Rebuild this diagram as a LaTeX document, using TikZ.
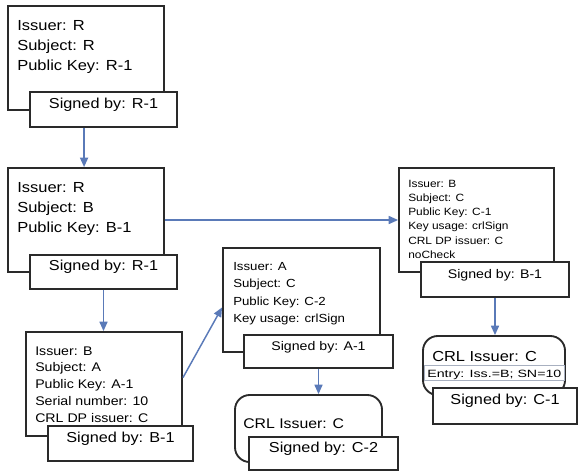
\documentclass[tikz,border=0pt]{standalone}
\usepackage{fontspec}
\setmainfont{Liberation Sans}[FakeStretch=1.13]
\newfontfamily\entryfont{Liberation Sans}[FakeStretch=1.35]
\usetikzlibrary{fit,calc,arrows.meta}
\definecolor{bordc}{HTML}{2A2A2A}
\definecolor{arrc}{HTML}{5A7AB8}
\definecolor{bandc}{HTML}{A8B0C0}
\newcommand{\myfA}{\fontsize{10.95}{15}\selectfont}
\newcommand{\myfC}{\fontsize{9.4}{12.6}\selectfont}
\newcommand{\myfD}{\fontsize{8.8}{13.2}\selectfont}
\newcommand{\myfE}{\fontsize{7.9}{10.7}\selectfont}
\newcommand{\myfS}{\fontsize{10.8}{13}\selectfont}
\newcommand{\myfSs}{\fontsize{9.4}{11}\selectfont}
\newcommand{\myfR}{\fontsize{10.9}{13}\selectfont}
\newcommand{\myfRb}{\fontsize{10.5}{13}\selectfont}
\newcommand{\myfEn}{\entryfont\fontsize{7.9}{9}\selectfont}
\tikzset{
  cert/.style={draw=bordc, line width=1.4pt, fill=white, inner sep=0pt},
  sign/.style={cert},
  crl/.style={cert, rounded corners=11pt},
  lines/.style={anchor=base west, align=left, inner sep=0pt},
  band/.style={draw=bandc, line width=0.6pt, inner sep=0pt},
  arr/.style={draw=arrc, line width=1.1pt, -{Triangle[length=7pt,width=6pt]}},
}
\begin{document}
\begin{tikzpicture}[x=0.75pt,y=-0.75pt]
\useasboundingbox (0,0) rectangle (580,472);
% box 1
\node[cert, fit={(8,6) (164,110)}] (c1) {};
\node[lines, font=\myfA] (t1) at (17,70) {Issuer: R\\Subject: R\\Public Key: R-1};
\node[sign, fit={(30,92) (177,127)}, font=\myfS] (s1) {Signed by: R-1};
% box 2
\node[cert, fit={(8,168) (164,272)}] (c2) {};
\node[lines, font=\myfA] (t2) at (17,232) {Issuer: R\\Subject: B\\Public Key: B-1};
\node[sign, fit={(30,255) (177,289)}, font=\myfS] (s2) {Signed by: R-1};
% box 3
\node[cert, fit={(26,332) (182,436)}] (c3) {};
\node[lines, font=\myfC] (t3) at (35,422.2) {Issuer: B\\Subject: A\\Public Key: A-1\\Serial number: 10\\CRL DP issuer: C};
\node[sign, fit={(48,426) (193,461)}, font=\myfS] (s3) {Signed by: B-1};
% box 4
\node[cert, fit={(223,248) (380,352)}] (c4) {};
\node[lines, font=\myfD] (t4) at (233,322.8) {Issuer: A\\Subject: C\\Public Key: C-2\\Key usage: crlSign};
\node[sign, fit={(244,335) (393,368)}, font=\myfSs] (s4) {Signed by: A-1};
% box 5
\node[cert, fit={(399,168) (554,272)}] (c5) {};
\node[lines, font=\myfE] (t5) at (408,258.5) {Issuer: B\\Subject: C\\Public Key: C-1\\Key usage: crlSign\\CRL DP issuer: C\\noCheck};
\node[sign, fit={(421,262) (569,297)}, font=\myfSs] (s5) {Signed by: B-1};
% CRL 1
\node[crl, fit={(423,336) (565,395)}] (crl1) {};
\node[lines, font=\myfR] (ct1) at (432,361) {CRL Issuer: C};
\node[band, fit={(424,365) (564,380)}] (bd1) {};
\node[lines, font=\myfEn] (et1) at (427,377) {Entry: Iss.=B; SN=10};
\node[sign, fit={(433,388) (577,424)}, font=\myfS] (sc1) {Signed by: C-1};
% CRL 2
\node[crl, fit={(235,395) (382,462)}] (crl2) {};
\node[lines, font=\myfRb] (ct2) at (243,428) {CRL Issuer: C};
\node[sign, fit={(249,437) (398,470)}, font=\myfS] (sc2) {Signed by: C-2};
% connectors
\draw[arr] ($(s1.south west)+(55,0)$) -- ($(c2.north west)+(77,0)$);
\draw[arr] (s2.south) -- (s2.south |- c3.north);
\draw[arr] (c2.east) -- (c2.east -| c5.west);
\draw[arr] ($(c3.north east)!0.44!(c3.south east)$) -- ($(c4.north west)!0.57!(c4.south west)$);
\draw[arr] (s4.south) -- (s4.south |- crl2.north);
\draw[arr] (s5.south) -- (s5.south |- crl1.north);
\end{tikzpicture}
\end{document}
